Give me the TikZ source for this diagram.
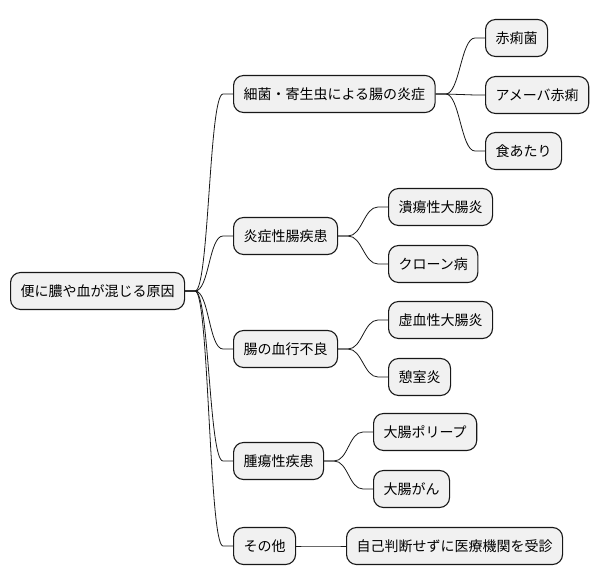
\documentclass[tikz,border=0pt]{standalone}
\usepackage{fontspec}
\setmainfont{Noto Sans CJK JP}
\usepackage{xcolor}
\usepackage{tikz}
\usetikzlibrary{positioning}
\definecolor{boxgray}{RGB}{241,241,241}
\definecolor{edgeblack}{RGB}{24,24,24}

\begin{document}
\begin{tikzpicture}[x=1pt, y=-1pt,
  topic/.style={draw=edgeblack, fill=boxgray, line width=1.1pt, rounded corners=10pt,
    minimum height=37pt, inner xsep=10pt, anchor=west,
    font=\fontsize{14pt}{16pt}\selectfont},
  link/.style={draw=edgeblack, line width=0.8pt}]
  \useasboundingbox (0,0) rectangle (600,583);

  %% root
  \node[topic] (root) at (10,291) {便に膿や血が混じる原因};

  %% first level
  \node[topic] (bact)  at (233,94)  {細菌・寄生虫による腸の炎症};
  \node[topic] (ibd)   at (233,236) {炎症性腸疾患};
  \node[topic] (isch)  at (233,349) {腸の血行不良};
  \node[topic] (tumor) at (233,461) {腫瘍性疾患};
  \node[topic] (other) at (233,546) {その他};

  %% second level
  \node[topic] (shig)  at (485,38)  {赤痢菌};
  \node[topic] (ameba) at (485,95)  {アメーバ赤痢};
  \node[topic] (food)  at (485,151) {食あたり};
  \node[topic] (uc)    at (388,207) {潰瘍性大腸炎};
  \node[topic] (crohn) at (388,264) {クローン病};
  \node[topic] (ic)    at (388,320) {虚血性大腸炎};
  \node[topic] (div)   at (388,377) {憩室炎};
  \node[topic] (polyp) at (373,432) {大腸ポリープ};
  \node[topic] (crc)   at (373,489) {大腸がん};
  \node[topic] (visit) at (346,546) {自己判断せずに医療機関を受診};

  %% branches
  \foreach \p/\c in {root/bact, root/ibd, root/isch, root/tumor, root/other,
                     bact/shig, bact/ameba, bact/food, ibd/uc, ibd/crohn,
                     isch/ic, isch/div, tumor/polyp, tumor/crc, other/visit}{
    \draw[link] (\p.east) -- ++(10,0)
      .. controls +(14,0) and +(-14,0) .. ([xshift=-10pt]\c.west) -- (\c.west);
  }
\end{tikzpicture}
\end{document}
